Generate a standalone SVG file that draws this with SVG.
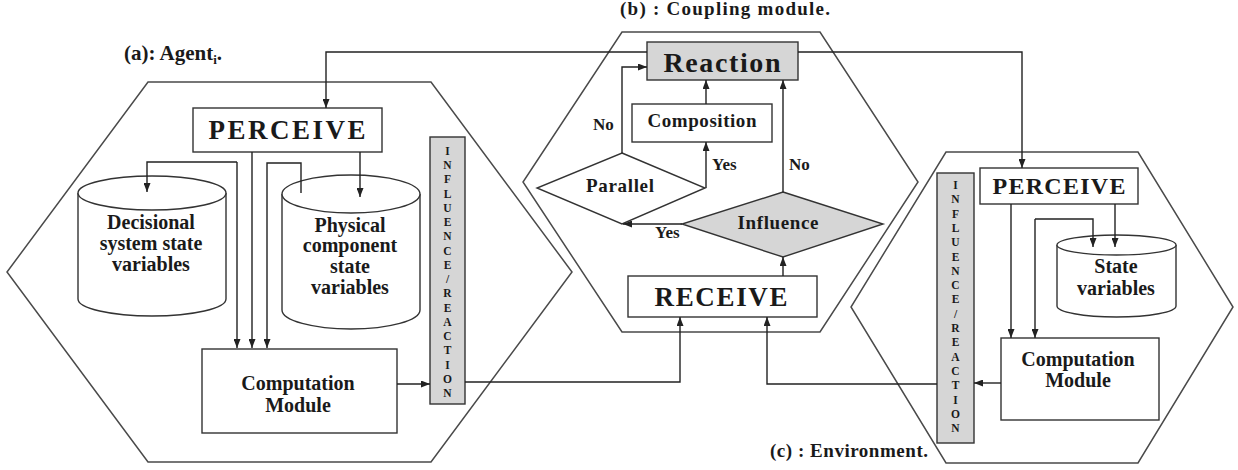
<svg xmlns="http://www.w3.org/2000/svg" width="1238" height="470" viewBox="0 0 1238 470">
<style>
.hex{fill:none;stroke:#4a4a4a;stroke-width:1.5}
.box{fill:#fff;stroke:#333;stroke-width:1.4}
.grey{fill:#d6d6d6;stroke:#333;stroke-width:1.4}
.cyl{fill:#fff;stroke:#333;stroke-width:1.4}
.con{fill:none;stroke:#222;stroke-width:1.4}
text{font-family:"Liberation Serif","Times New Roman",serif;font-weight:bold;fill:#1a1a1a}
.mid{font-size:20px}
.sm{font-size:17px}
.bar{font-size:11.5px;text-anchor:middle}
.c{text-anchor:middle}
</style>
<defs>
<marker id="ah" viewBox="0 0 9 7" refX="9" refY="3.5" markerWidth="9" markerHeight="7" markerUnits="userSpaceOnUse" orient="auto">
<path d="M0,0 L9,3.5 L0,7 z" fill="#222"/>
</marker>
</defs>
<rect width="1238" height="470" fill="#fff"/>

<g id="hexagons">
<polygon id="hex-agent" class="hex" points="148,82 431,82 572,272 431,462 148,462 7,272"/>
<polygon id="hex-coupling" class="hex" points="622,32 820,32 918,182 820,332 622,332 523,182"/>
<polygon id="hex-env" class="hex" points="946,152 1138,152 1233,307 1138,463 946,463 851,307"/>
</g>

<g id="titles">
<text x="124" y="60" style="font-size:21px">(a): Agent<tspan dy="4" style="font-size:13px">i</tspan><tspan dy="-4">.</tspan></text>
<text x="620" y="15" style="font-size:19px" textLength="210" lengthAdjust="spacing">(b) : Coupling module.</text>
<text x="770" y="457" style="font-size:19px" textLength="158" lengthAdjust="spacing">(c) : Environment.</text>
</g>

<g id="perceive-a">
<rect class="box" x="193" y="108" width="189" height="44"/>
<text class="c" x="287" y="139" style="font-size:27px" textLength="157" lengthAdjust="spacing">PERCEIVE</text>
</g>

<g id="decisional">
<path class="cyl" d="M78,193 V299 A74,17 0 0 0 226,299 V193"/>
<ellipse class="cyl" cx="152" cy="193" rx="74" ry="17"/>
<text class="mid c" x="151" y="229">Decisional</text>
<text class="mid c" x="151" y="250">system state</text>
<text class="mid c" x="151" y="271">variables</text>
</g>

<g id="physical">
<path class="cyl" d="M282,194 V310 A69,19 0 0 0 420,310 V194"/>
<ellipse class="cyl" cx="351" cy="194" rx="69" ry="19"/>
<text class="mid c" x="350" y="232">Physical</text>
<text class="mid c" x="350" y="252">component</text>
<text class="mid c" x="350" y="273">state</text>
<text class="mid c" x="350" y="294">variables</text>
</g>

<g id="computation-a">
<rect class="box" x="202" y="349" width="195" height="84"/>
<text class="mid c" x="298" y="390">Computation</text>
<text class="mid c" x="298" y="412">Module</text>
</g>

<g id="bar-a">
<rect class="grey" x="430" y="137" width="35" height="267"/>
<text class="bar" x="447.5" y="155"><tspan x="447.5" dy="0">I</tspan><tspan x="447.5" dy="14.24">N</tspan><tspan x="447.5" dy="14.24">F</tspan><tspan x="447.5" dy="14.24">L</tspan><tspan x="447.5" dy="14.24">U</tspan><tspan x="447.5" dy="14.24">E</tspan><tspan x="447.5" dy="14.24">N</tspan><tspan x="447.5" dy="14.24">C</tspan><tspan x="447.5" dy="14.24">E</tspan><tspan x="447.5" dy="14.24">/</tspan><tspan x="447.5" dy="14.24">R</tspan><tspan x="447.5" dy="14.24">E</tspan><tspan x="447.5" dy="14.24">A</tspan><tspan x="447.5" dy="14.24">C</tspan><tspan x="447.5" dy="14.24">T</tspan><tspan x="447.5" dy="14.24">I</tspan><tspan x="447.5" dy="14.24">O</tspan><tspan x="447.5" dy="14.24">N</tspan></text>
</g>

<g id="reaction">
<rect class="grey" x="647" y="42" width="151" height="38"/>
<text class="c" x="722" y="72" style="font-size:28px" textLength="117" lengthAdjust="spacing">Reaction</text>
</g>

<g id="composition">
<rect class="box" x="632" y="104" width="140" height="38"/>
<text class="c" x="702" y="127" style="font-size:19px" textLength="109" lengthAdjust="spacing">Composition</text>
</g>

<g id="parallel">
<polygon class="box" points="622,153 705,188 622,224 537,188"/>
<text class="c" x="620" y="192" style="font-size:19px" textLength="68" lengthAdjust="spacing">Parallel</text>
</g>

<g id="influence">
<polygon class="grey" points="783,192 883,224 783,257 682,224"/>
<text class="c" x="778" y="229" style="font-size:19px" textLength="81" lengthAdjust="spacing">Influence</text>
</g>

<g id="receive">
<rect class="box" x="628" y="276" width="189" height="41"/>
<text class="c" x="721" y="306" style="font-size:27px" textLength="133" lengthAdjust="spacing">RECEIVE</text>
</g>

<g id="perceive-c">
<rect class="box" x="980" y="168" width="158" height="36"/>
<text class="c" x="1059" y="194" style="font-size:24px" textLength="133" lengthAdjust="spacing">PERCEIVE</text>
</g>

<g id="state-vars">
<path class="cyl" d="M1057,245 V306 A59.5,11 0 0 0 1176,306 V245"/>
<ellipse class="cyl" cx="1116.5" cy="245" rx="59.5" ry="10"/>
<text class="mid c" x="1116" y="273">State</text>
<text class="mid c" x="1116" y="295">variables</text>
</g>

<g id="computation-c">
<rect class="box" x="1001" y="338" width="158" height="82"/>
<text class="mid c" x="1078" y="366">Computation</text>
<text class="mid c" x="1078" y="387">Module</text>
</g>

<g id="bar-c">
<rect class="grey" x="937" y="173" width="37" height="270"/>
<text class="bar" x="955.5" y="189"><tspan x="955.5" dy="0">I</tspan><tspan x="955.5" dy="14.3">N</tspan><tspan x="955.5" dy="14.3">F</tspan><tspan x="955.5" dy="14.3">L</tspan><tspan x="955.5" dy="14.3">U</tspan><tspan x="955.5" dy="14.3">E</tspan><tspan x="955.5" dy="14.3">N</tspan><tspan x="955.5" dy="14.3">C</tspan><tspan x="955.5" dy="14.3">E</tspan><tspan x="955.5" dy="14.3">/</tspan><tspan x="955.5" dy="14.3">R</tspan><tspan x="955.5" dy="14.3">E</tspan><tspan x="955.5" dy="14.3">A</tspan><tspan x="955.5" dy="14.3">C</tspan><tspan x="955.5" dy="14.3">T</tspan><tspan x="955.5" dy="14.3">I</tspan><tspan x="955.5" dy="14.3">O</tspan><tspan x="955.5" dy="14.3">N</tspan></text>
</g>

<g id="connectors">
<path class="con" d="M647,52 H326 V108" marker-end="url(#ah)"/>
<path class="con" d="M798,52 H1022 V168" marker-end="url(#ah)"/>
<path class="con" d="M252,152 V348" marker-end="url(#ah)"/>
<path class="con" d="M237,162 H147 V192" marker-end="url(#ah)"/>
<path class="con" d="M237,162 V348" marker-end="url(#ah)"/>
<path class="con" d="M301,193 V163 H267 V348" marker-end="url(#ah)"/>
<path class="con" d="M360,152 V197" marker-end="url(#ah)"/>
<path class="con" d="M397,384 H430" marker-end="url(#ah)"/>
<path class="con" d="M465,382 H680 V317" marker-end="url(#ah)"/>
<path class="con" d="M783,276 V257" marker-end="url(#ah)"/>
<path class="con" d="M783,192 V80" marker-end="url(#ah)"/>
<path class="con" d="M682,224 H623" marker-end="url(#ah)"/>
<path class="con" d="M706,188 V142" marker-end="url(#ah)"/>
<path class="con" d="M706,104 V80" marker-end="url(#ah)"/>
<path class="con" d="M622,153 V67 H647" marker-end="url(#ah)"/>
<path class="con" d="M1011,204 V338" marker-end="url(#ah)"/>
<path class="con" d="M1115,204 V247" marker-end="url(#ah)"/>
<path class="con" d="M1035,219 H1093 V247" marker-end="url(#ah)"/>
<path class="con" d="M1035,219 V338" marker-end="url(#ah)"/>
<path class="con" d="M1001,383 H974" marker-end="url(#ah)"/>
<path class="con" d="M937,384 H767 V317" marker-end="url(#ah)"/>
<text class="sm" x="593" y="130">No</text>
<text class="sm" x="712" y="170">Yes</text>
<text class="sm" x="789" y="170">No</text>
<text class="sm" x="655" y="238">Yes</text>
</g>
</svg>
